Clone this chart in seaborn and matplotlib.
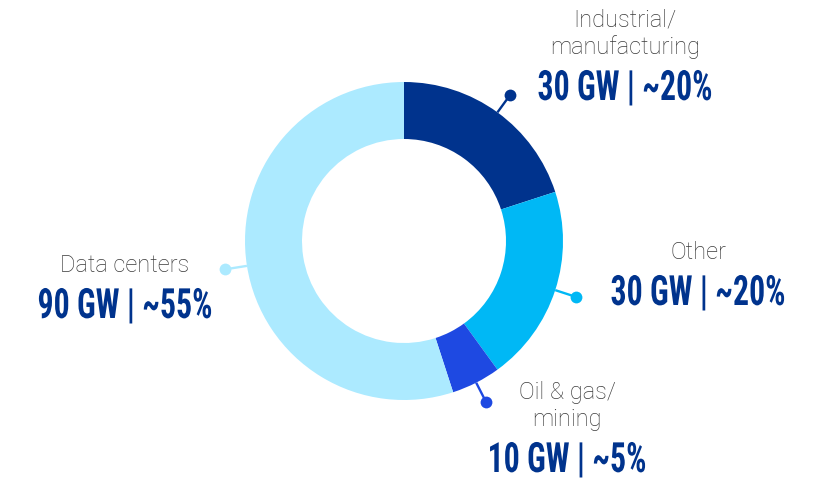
import numpy as np
import matplotlib
matplotlib.use("Agg")
import matplotlib.pyplot as plt
import seaborn as sns
from matplotlib.patheffects import AbstractPathEffect
from matplotlib.transforms import Affine2D

# Demand segments, clockwise from 12 o'clock
segments = ["Industrial/\nmanufacturing", "Other", "Oil & gas/\nmining", "Data centers"]
capacity_gw = [30, 30, 10, 90]
share_pct = [20, 20, 5, 55]
segment_colors = ["#00338D", "#00B8F5", "#1E49E2", "#ACEAFF"]

sns.set_theme(style="white")
plt.rcParams["font.family"] = ["Roboto", "Liberation Sans", "DejaVu Sans"]

W, H = 816, 480
fig = plt.figure(figsize=(W / 100, H / 100), dpi=100)
ax = fig.add_axes([0, 0, 1, 1])


def py(y):
    """Convert a top-down pixel row into axis units."""
    return H - y


palette = sns.color_palette(segment_colors)
center = (404, py(241))
outer_r, ring_w = 159, 57

wedges, _ = ax.pie(
    share_pct,
    colors=palette,
    startangle=90,
    counterclock=False,
    center=center,
    radius=outer_r,
    wedgeprops=dict(width=ring_w, linewidth=0),
    frame=True,
)
ax.set_xlim(0, W)
ax.set_ylim(0, H)
ax.set_aspect("equal")
ax.axis("off")

# Leader line + dot at the middle of each wedge
dot_r = 181
for w, col in zip(wedges, palette):
    theta = np.deg2rad((w.theta1 + w.theta2) / 2)
    x0 = center[0] + outer_r * np.cos(theta)
    y0 = center[1] + outer_r * np.sin(theta)
    x1 = center[0] + dot_r * np.cos(theta)
    y1 = center[1] + dot_r * np.sin(theta)
    ax.plot([x0, x1], [y0, y1], color=col, lw=1.7, solid_capstyle="butt", zorder=3)
    ax.plot([x1], [y1], marker="o", ms=8.5, color=col, mec="none", zorder=4)


class HorizontalSqueeze(AbstractPathEffect):
    """Narrow the glyphs horizontally around the text's anchor point."""

    def __init__(self, factor, anchor_fn):
        super().__init__()
        self.factor = factor
        self.anchor_fn = anchor_fn

    def draw_path(self, renderer, gc, tpath, affine, rgbFace=None):
        ax_px = self.anchor_fn()
        squeeze = Affine2D().translate(-ax_px, 0).scale(self.factor, 1).translate(ax_px, 0)
        renderer.draw_path(gc, tpath, affine + squeeze, rgbFace)


# Label block placement: horizontal centre and baseline of the value line
label_x = [625, 698, 567, 125]
value_baseline = [100, 305, 472, 318]

name_color = "#3A3A3A"
value_color = "#00338D"
value_family = ["Liberation Sans Narrow", "Roboto Condensed", "Roboto", "DejaVu Sans"]
value_texts = []
for name, gw, pct, cx, vb in zip(segments, capacity_gw, share_pct, label_x, value_baseline):
    lines = name.split("\n")
    for i, line in enumerate(reversed(lines)):
        ax.text(cx, py(vb - 46 - 27 * i), line, ha="center", va="baseline",
                fontsize=17, fontweight="light", color=name_color)
    t = ax.text(cx, py(vb), f"{gw} GW | ~{pct}%", ha="center", va="baseline",
                fontsize=30, fontweight="bold", color=value_color, family=value_family)
    value_texts.append((t, cx, vb))

# Condense the value figures so a two-digit line is about 175 px wide
renderer = fig.canvas.get_renderer()
natural_w = value_texts[0][0].get_window_extent(renderer).width
squeeze = min(1.0, 175 / natural_w)
for t, cx, vb in value_texts:
    t.set_path_effects([HorizontalSqueeze(
        squeeze, lambda cx=cx, vb=vb: ax.transData.transform((cx, py(vb)))[0])])

fig.savefig("out.png", dpi=100, facecolor="white")
